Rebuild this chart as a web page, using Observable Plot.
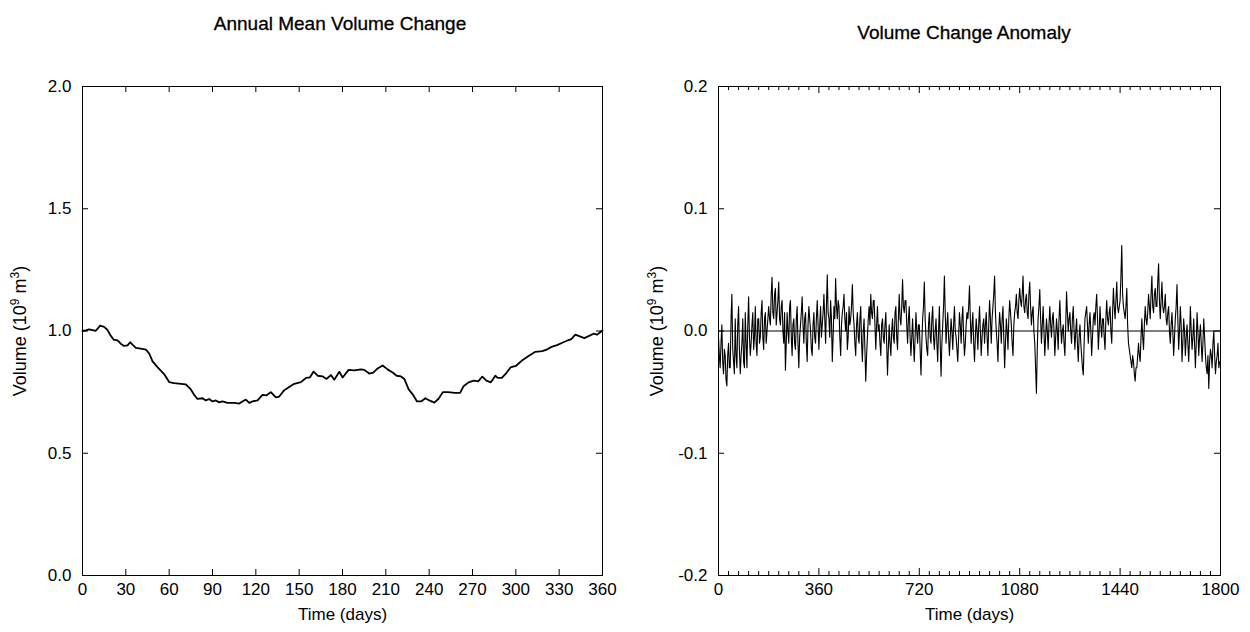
<!DOCTYPE html>
<html><head><meta charset="utf-8">
<script src="https://cdn.jsdelivr.net/npm/d3@7"></script>
<script src="https://cdn.jsdelivr.net/npm/@observablehq/plot@0.6"></script>
<style>
html,body{margin:0;padding:0;background:#fff;}
#wrap{position:relative;width:1250px;height:632px;overflow:hidden;font-family:"Liberation Sans",Arial,sans-serif;color:#000;}
.panel{position:absolute;top:0;}
.title{position:absolute;font-size:19px;white-space:nowrap;transform:translate(-50%,-50%);-webkit-text-stroke:0.3px #000;}
.ylab{position:absolute;font-size:18px;white-space:nowrap;transform:translate(-50%,-50%) rotate(-90deg);}
.ylab sup{font-size:12px;}
</style></head>
<body><div id="wrap">
<div class="panel" id="left" style="left:0"></div>
<div class="panel" id="right" style="left:625px"></div>
<div class="title" style="left:340px;top:24px">Annual Mean Volume Change</div>
<div class="title" style="left:964px;top:33px">Volume Change Anomaly</div>
<div class="ylab" style="left:19px;top:331px">Volume (10<sup>9</sup> m<sup>3</sup>)</div>
<div class="ylab" style="left:656px;top:331px">Volume (10<sup>9</sup> m<sup>3</sup>)</div>
</div>
<script>
// ---- Left panel data: annual mean volume change ----
const meanDays = [0,2.3,4.6,6.9,9.2,12.2,15,17.3,19.6,21.5,24.2,26.5,28.8,31.2,33,34.6,36.9,40.4,43.9,46.2,48.5,51.9,56.5,60,63.5,68.1,71.5,75,77.3,79.6,83.1,85.4,87.7,90,92.3,94.6,96.9,100.4,105,108.5,111.9,113.1,115.4,117.7,121.2,124.6,127.4,130.4,133.9,136.2,139.7,143.1,146.6,151.2,154.7,157.4,160,162.8,166.3,169,172,174.3,177.8,180.1,184.2,188.1,192.8,195.1,198.5,201.3,204.3,207.8,211.2,214.7,217.5,220.5,222.8,225.8,228.6,231.6,234.4,237.4,240.1,243.6,246.5,249.5,253.1,257.8,261.4,263.8,267.3,270.9,273.9,276.8,279.6,282.7,285.8,287.5,290.3,293.4,296.3,300,304,308.8,313.5,318.3,321.8,324.7,328.5,331.8,336.1,338.4,341.2,344.3,347.4,350.7,353.8,356.2,358.6,360];
const meanVolume = [1.000,1.003,1.007,1.004,1.001,1.022,1.017,1.004,0.980,0.965,0.962,0.948,0.939,0.941,0.954,0.944,0.931,0.928,0.924,0.908,0.876,0.852,0.824,0.791,0.787,0.784,0.782,0.761,0.739,0.722,0.725,0.716,0.722,0.712,0.716,0.708,0.712,0.706,0.706,0.703,0.716,0.719,0.706,0.712,0.716,0.739,0.737,0.750,0.729,0.732,0.758,0.771,0.784,0.791,0.808,0.810,0.834,0.817,0.814,0.804,0.820,0.801,0.833,0.810,0.841,0.839,0.843,0.841,0.826,0.830,0.847,0.859,0.843,0.830,0.817,0.814,0.804,0.761,0.741,0.712,0.712,0.725,0.716,0.707,0.723,0.750,0.750,0.747,0.747,0.774,0.790,0.797,0.794,0.813,0.797,0.790,0.817,0.808,0.808,0.828,0.851,0.857,0.878,0.898,0.915,0.918,0.925,0.935,0.942,0.951,0.962,0.967,0.985,0.978,0.971,0.980,0.989,0.985,0.996,1.002];
const leftXTicks = [0,30,60,90,120,150,180,210,240,270,300,330,360];
const leftYTicks = [0.0,0.5,1.0,1.5,2.0];

// ---- Right panel data: volume change anomaly (3-day sampling) ----
const anomalyStep = 3;
const anomaly = [
-0.005,-0.02,-0.03,-0.01,0.005,-0.025,-0.035,-0.015,-0.02,-0.04,-0.045,-0.02,-0.01,-0.03,-0.03,0.01,0.03,-0.015,-0.025,-0.035,
0.01,-0.02,-0.03,0.005,0.02,-0.015,-0.035,-0.02,-0.01,0.01,-0.025,-0.03,0.015,-0.01,-0.03,0.005,0.028,-0.005,-0.02,-0.01,
0.005,0.015,-0.015,-0.005,0.02,-0.01,-0.02,0.01,0.01,-0.01,-0.005,0.015,0.025,-0.005,-0.015,0.01,0.015,-0.01,0.0,0.01,
0.02,0.01,0.005,0.03,0.044,0.015,0.01,0.03,0.035,0.005,0.015,0.025,0.04,0.01,0.005,0.02,0.025,0.0,-0.01,0.015,
-0.032,-0.01,0.015,0.0,-0.01,0.02,0.025,-0.005,-0.02,0.005,0.01,-0.01,-0.015,0.01,0.02,-0.01,-0.03,-0.005,0.005,0.015,
0.028,0.005,-0.01,0.01,0.015,-0.01,-0.025,0.005,0.02,0.01,0.0,-0.015,-0.02,0.005,0.015,-0.005,-0.01,0.01,0.025,0.005,
-0.015,0.005,0.02,-0.005,0.005,0.015,0.03,0.01,-0.01,0.02,0.046,0.015,0.01,-0.005,0.025,0.01,-0.025,-0.005,0.02,0.01,
0.043,0.02,0.01,0.025,0.02,-0.005,-0.02,0.005,0.015,0.02,0.03,0.01,0.0,0.015,-0.015,-0.005,0.02,0.005,0.01,0.02,
0.038,0.015,0.005,-0.01,-0.02,0.005,0.015,-0.005,-0.01,0.01,0.02,-0.01,-0.025,0.0,0.01,-0.015,-0.041,-0.02,-0.005,0.01,
0.02,0.005,0.03,0.015,0.01,0.025,0.025,0.005,-0.015,0.005,0.02,0.0,0.005,-0.01,-0.02,0.005,0.01,-0.005,-0.01,0.005,
0.015,-0.01,-0.036,-0.015,0.005,-0.01,-0.02,0.0,0.01,-0.005,-0.01,0.015,0.02,-0.005,-0.015,0.01,0.03,0.01,0.005,0.02,
0.042,0.02,0.015,0.025,0.025,0.005,-0.01,0.01,0.02,-0.005,-0.02,-0.005,0.01,-0.01,-0.025,-0.005,0.015,0.0,-0.01,0.005,
0.005,-0.015,-0.036,-0.01,0.01,0.02,0.04,0.01,-0.005,-0.015,-0.02,0.005,0.015,-0.005,-0.01,0.01,0.02,-0.005,-0.015,0.0,
0.01,-0.01,-0.025,0.0,0.02,-0.01,-0.037,-0.01,0.005,0.02,0.045,0.015,-0.01,0.005,0.015,-0.005,-0.02,-0.005,0.01,0.0,
-0.015,0.005,0.02,0.0,-0.005,-0.015,-0.025,-0.005,0.015,0.005,-0.01,0.01,0.02,-0.005,-0.02,-0.01,0.005,0.015,0.01,0.02,
0.037,0.01,-0.01,0.005,0.015,-0.01,-0.025,-0.005,0.01,0.0,-0.015,0.005,0.02,0.0,-0.02,-0.005,0.005,0.01,-0.01,0.005,
0.015,-0.005,-0.02,0.005,0.025,0.01,-0.01,0.01,0.02,0.03,0.045,0.015,0.0,-0.01,-0.025,0.0,0.015,0.005,-0.01,0.01,
0.02,-0.005,-0.03,-0.01,0.01,0.0,-0.015,0.01,0.025,0.015,0.005,-0.01,-0.02,0.005,0.015,0.02,0.03,0.015,0.01,0.025,
0.035,0.025,0.02,0.03,0.045,0.02,0.015,0.025,0.03,0.015,0.01,0.03,0.04,0.02,0.005,0.015,0.02,0.0,-0.01,-0.03,
-0.051,-0.015,0.01,0.02,0.034,0.01,-0.01,0.005,0.02,0.0,-0.02,-0.005,0.01,0.0,-0.015,0.005,0.02,0.005,-0.005,0.01,
0.015,0.0,-0.02,-0.005,0.01,0.0,-0.015,0.01,0.025,0.005,-0.01,0.0,0.005,-0.01,-0.02,0.005,0.032,0.015,0.0,0.01,
0.015,0.0,-0.01,0.01,0.02,0.0,-0.015,0.0,0.01,-0.01,-0.025,-0.005,0.005,-0.01,-0.02,-0.03,-0.036,-0.01,0.01,0.015,
0.02,0.005,-0.01,0.005,0.015,0.0,-0.02,-0.005,0.01,0.015,0.005,0.02,0.03,0.01,-0.015,0.0,0.02,0.005,-0.005,0.01,
0.01,-0.005,-0.015,0.01,0.025,0.01,0.005,0.015,0.02,0.0,-0.01,0.015,0.035,0.02,0.01,0.025,0.04,0.02,0.015,0.02,
0.025,0.045,0.07,0.03,0.02,0.015,0.01,0.02,0.035,0.005,-0.01,-0.015,-0.02,-0.025,-0.03,-0.02,-0.025,-0.035,-0.041,-0.03,
-0.03,-0.02,-0.01,-0.02,-0.025,-0.005,0.01,-0.005,-0.015,0.005,0.02,0.01,0.005,0.015,0.03,0.02,0.01,0.03,0.045,0.02,
0.015,0.03,0.035,0.02,0.02,0.04,0.055,0.025,0.01,0.025,0.04,0.02,0.015,0.02,0.03,0.01,0.005,0.015,0.02,0.0,
-0.01,0.005,0.015,0.0,-0.02,-0.005,0.01,0.02,0.038,0.01,-0.015,0.0,0.02,0.005,-0.025,-0.01,0.01,0.0,-0.02,-0.005,
0.005,-0.01,-0.025,-0.005,0.02,0.0,-0.015,-0.005,0.01,-0.01,-0.03,-0.01,0.015,0.0,-0.02,-0.005,0.005,-0.01,-0.025,-0.01,
0.01,-0.005,-0.02,-0.03,-0.035,-0.02,-0.047,-0.025,-0.015,-0.02,-0.03,-0.01,0.0,-0.02,-0.035,-0.025,-0.02,-0.01,-0.03,-0.025
];
const rightXTicks = [0,360,720,1080,1440,1800];
const rightXMinor = [36,72,108,144,180,216,252,288,324,396,432,468,504,540,576,612,648,684,756,792,828,864,900,936,972,1008,1044,1116,1152,1188,1224,1260,1296,1332,1368,1404,1476,1512,1548,1584,1620,1656,1692,1728,1764];
const rightYTicks = [-0.2,-0.1,0.0,0.1,0.2];

const font = {fontFamily:"'Liberation Sans', Arial, sans-serif", fontSize:"17px", background:"transparent", color:"#000", overflow:"visible"};
const fmtY = d => d.toFixed(1);
const fmtX = d => String(d);

// Left
{
  const W=625,H=632,mL=82,mR=23,mT=86,mB=57;
  const iw=W-mL-mR, ih=H-mT-mB;
  const data = meanDays.map((d,i)=>({day:d, v:meanVolume[i]}));
  const p = Plot.plot({
    width:W,height:H,marginLeft:mL,marginRight:mR,marginTop:mT,marginBottom:mB,
    style:font,
    x:{domain:[0,360]}, y:{domain:[0,2]},
    marks:[
      Plot.frame({stroke:"#000",strokeWidth:1}),
      Plot.tickX(leftXTicks,{x:d=>d,insetTop:ih-6,stroke:"#000"}),
      Plot.tickX(leftXTicks,{x:d=>d,insetBottom:ih-6,stroke:"#000"}),
      Plot.tickY(leftYTicks,{y:d=>d,insetRight:iw-6,stroke:"#000"}),
      Plot.tickY(leftYTicks,{y:d=>d,insetLeft:iw-6,stroke:"#000"}),
      Plot.axisX({ticks:leftXTicks,tickSize:0,tickPadding:7,tickFormat:fmtX,fontSize:17,label:"Time (days)",labelAnchor:"center",labelArrow:"none",labelOffset:44}),
      Plot.axisY({ticks:leftYTicks,tickSize:0,tickPadding:11,tickFormat:fmtY,fontSize:17,label:null}),
      Plot.line(data,{x:"day",y:"v",stroke:"#000",strokeWidth:1.8})
    ]
  });
  document.getElementById("left").appendChild(p);
}
// Right
{
  const W=625,H=632,mL=93,mR=30,mT=86,mB=57;
  const iw=W-mL-mR, ih=H-mT-mB;
  const data = anomaly.map((v,i)=>({day:i*anomalyStep, v}));
  const p = Plot.plot({
    width:W,height:H,marginLeft:mL,marginRight:mR,marginTop:mT,marginBottom:mB,
    style:font,
    x:{domain:[0,1800]}, y:{domain:[-0.2,0.2]},
    marks:[
      Plot.frame({stroke:"#000",strokeWidth:1}),
      Plot.tickX(rightXMinor,{x:d=>d,insetTop:ih-4,stroke:"#000"}),
      Plot.tickX(rightXMinor,{x:d=>d,insetBottom:ih-4,stroke:"#000"}),
      Plot.tickX(rightXTicks,{x:d=>d,insetTop:ih-7,stroke:"#000"}),
      Plot.tickX(rightXTicks,{x:d=>d,insetBottom:ih-7,stroke:"#000"}),
      Plot.tickY(rightYTicks,{y:d=>d,insetRight:iw-6,stroke:"#000"}),
      Plot.tickY(rightYTicks,{y:d=>d,insetLeft:iw-6,stroke:"#000"}),
      Plot.ruleY([0],{stroke:"#000",strokeWidth:1.2}),
      Plot.axisX({ticks:rightXTicks,tickSize:0,tickPadding:7,tickFormat:fmtX,fontSize:17,label:"Time (days)",labelAnchor:"center",labelArrow:"none",labelOffset:44}),
      Plot.axisY({ticks:rightYTicks,tickSize:0,tickPadding:11,tickFormat:fmtY,fontSize:17,label:null}),
      Plot.line(data,{x:"day",y:"v",stroke:"#000",strokeWidth:1.1})
    ]
  });
  document.getElementById("right").appendChild(p);
}
</script>
</body></html>
